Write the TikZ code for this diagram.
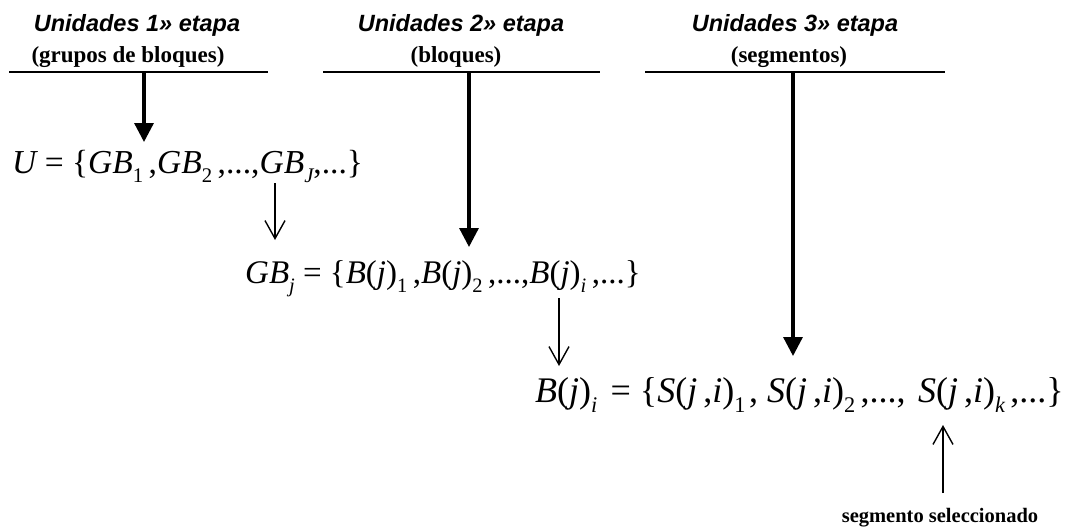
\documentclass[tikz,border=0pt]{standalone}
\usepackage{fontspec}
\usepackage{graphicx}
\usetikzlibrary{arrows.meta}
\newfontfamily\hdfont{Liberation Sans}
\newfontfamily\tmfont{Liberation Serif}
\newcommand\ssub[1]{\raisebox{-0.28em}{\scalebox{0.62}{#1}}}
\newcommand\vi[1]{{\itshape #1}}
\tikzset{
  hdr/.style={inner sep=0pt, anchor=base, font={\hdfont\bfseries\itshape\fontsize{23.5}{26}\selectfont}},
  subhdr/.style={inner sep=0pt, anchor=base, font={\tmfont\bfseries\fontsize{23}{25}\selectfont}},
  note/.style={inner sep=0pt, anchor=base, font={\tmfont\bfseries\fontsize{20.5}{23}\selectfont}},
  formula/.style={inner sep=0pt, anchor=base west},
  uline/.style={line width=1.8pt},
  thickarrow/.style={line width=3.3pt, -{Triangle[length=19pt,width=19pt]}},
  thinarrow/.style={line width=1.4pt, -{Straight Barb[length=18pt,width=20pt]}}
}
\begin{document}
\begin{tikzpicture}[x=1pt,y=-1pt]
\useasboundingbox (0,0) rectangle (1070,527);
% headers
\node[hdr] (h1) at (137,32) {Unidades 1» etapa};
\node[hdr] (h2) at (461,32) {Unidades 2» etapa};
\node[hdr] (h3) at (795,32) {Unidades 3» etapa};
\node[subhdr] (s1) at (128,63) {(grupos de bloques)};
\node[subhdr] (s2) at (456,63) {(bloques)};
\node[subhdr] (s3) at (789,63) {(segmentos)};
% underlines
\coordinate (l1a) at (9,72);   \coordinate (l1b) at (268,72);
\coordinate (l2a) at (323,72); \coordinate (l2b) at (600,72);
\coordinate (l3a) at (645,72); \coordinate (l3b) at (945,72);
\draw[uline] (l1a) -- (l1b);
\draw[uline] (l2a) -- (l2b);
\draw[uline] (l3a) -- (l3b);
% formulas
\node[formula, font={\tmfont\fontsize{33.5}{35}\selectfont}] (fU) at (12,173)
  {\vi{U} = \{\vi{GB}\ssub{1}\,,\vi{GB}\ssub{2}\,,...,\vi{GB}\ssub{\vi{J}},...\}};
\node[formula, font={\tmfont\fontsize{33}{35}\selectfont}] (fGB) at (245,283)
  {\vi{GB}\ssub{\vi{j}} = \{\vi{B}(\vi{j})\ssub{1}\,,\vi{B}(\vi{j})\ssub{2}\,,...,\vi{B}(\vi{j})\ssub{\vi{i}}\,,...\}};
\node[formula, font={\tmfont\fontsize{36}{38}\selectfont}] (fB) at (535,402)
  {\vi{B}(\vi{j})\ssub{\vi{i}}\hspace{0.12em} = \{\vi{S}(\vi{j}\,,\vi{i})\ssub{1}\hspace{0.1em}, \vi{S}(\vi{j}\,,\vi{i})\ssub{2}\hspace{0.15em},...,\hspace{0.1em} \vi{S}(\vi{j}\,,\vi{i})\ssub{\vi{k}}\hspace{0.15em},...\}};
\node[note] (sel) at (940,522) {segmento seleccionado};
% arrow endpoints
\coordinate (a1s) at (144,72);  \coordinate (a1e) at (144,142);
\coordinate (a2s) at (469,72);  \coordinate (a2e) at (469,247);
\coordinate (a3s) at (793,72);  \coordinate (a3e) at (793,356);
\coordinate (b1s) at (275,183); \coordinate (b1e) at (275,240);
\coordinate (b2s) at (559,298); \coordinate (b2e) at (559,366);
\coordinate (b3s) at (943,493); \coordinate (b3e) at (943,425);
\draw[thickarrow] (a1s) -- (a1e);
\draw[thickarrow] (a2s) -- (a2e);
\draw[thickarrow] (a3s) -- (a3e);
\draw[thinarrow] (b1s) -- (b1e);
\draw[thinarrow] (b2s) -- (b2e);
\draw[thinarrow] (b3s) -- (b3e);
\end{tikzpicture}
\end{document}
